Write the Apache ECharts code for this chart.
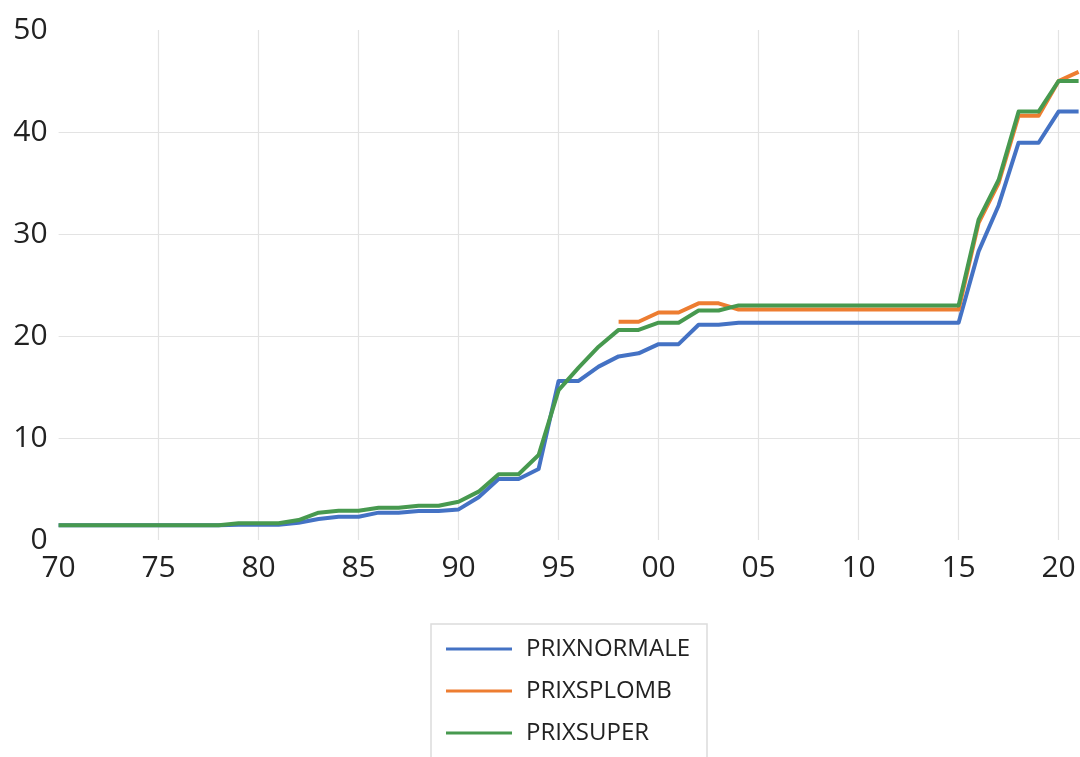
<!DOCTYPE html>
<html>
<head>
<meta charset="utf-8">
<title>Prix des carburants</title>
<script src="https://cdn.jsdelivr.net/npm/echarts@6/dist/echarts.min.js"></script>
<style>
  html, body { margin: 0; padding: 0; background: #ffffff; }
  #chart { width: 1080px; height: 757px; }
</style>
</head>
<body>
<div id="chart"></div>
<script>
// Years 1970 .. 2021
const years = [];
for (let y = 1970; y <= 2021; y++) years.push(y);

const seriesNames = ['PRIXNORMALE', 'PRIXSPLOMB', 'PRIXSUPER'];

const prixNormale = [
  1.45, 1.45, 1.45, 1.45, 1.45, 1.45, 1.45, 1.45, 1.45, 1.5,   // 1970-1979
  1.5, 1.5, 1.7, 2.06, 2.28, 2.28, 2.68, 2.68, 2.84, 2.84,      // 1980-1989
  3.0, 4.19, 5.98, 5.98, 6.96, 15.6, 15.6, 17.0, 18.0, 18.3,    // 1990-1999
  19.2, 19.2, 21.1, 21.1, 21.3, 21.3, 21.3, 21.3, 21.3, 21.3,   // 2000-2009
  21.3, 21.3, 21.3, 21.3, 21.3, 21.3, 28.3, 32.8, 38.95, 38.95, // 2010-2019
  42.0, 42.0                                                    // 2020-2021
];

const prixSPlomb = [
  null, null, null, null, null, null, null, null, null, null,   // 1970-1979
  null, null, null, null, null, null, null, null, null, null,   // 1980-1989
  null, null, null, null, null, null, null, null, 21.4, 21.4,   // 1990-1999
  22.3, 22.3, 23.2, 23.2, 22.6, 22.6, 22.6, 22.6, 22.6, 22.6,   // 2000-2009
  22.6, 22.6, 22.6, 22.6, 22.6, 22.6, 31.1, 35.0, 41.6, 41.6,   // 2010-2019
  45.0, 45.9                                                    // 2020-2021
];

const prixSuper = [
  1.45, 1.45, 1.45, 1.45, 1.45, 1.45, 1.45, 1.45, 1.45, 1.65,  // 1970-1979
  1.65, 1.65, 1.96, 2.68, 2.87, 2.87, 3.17, 3.17, 3.36, 3.36,  // 1980-1989
  3.75, 4.74, 6.44, 6.44, 8.33, 14.7, 16.9, 18.95, 20.6, 20.6, // 1990-1999
  21.3, 21.3, 22.5, 22.5, 23.0, 23.0, 23.0, 23.0, 23.0, 23.0,  // 2000-2009
  23.0, 23.0, 23.0, 23.0, 23.0, 23.0, 31.4, 35.3, 42.0, 42.0,  // 2010-2019
  45.0, 45.0                                                   // 2020-2021
];

const colors = ['#4472C4', '#ED7D31', '#47994F'];

function pairs(values) {
  return years.map((y, i) => [y, values[i]]);
}

const textColor = '#222222';
const fontFamily = '"Open Sans", "Noto Sans", sans-serif';

function lineSeries(name, values, color) {
  return {
    name: name,
    type: 'line',
    data: pairs(values),
    symbol: 'none',
    connectNulls: false,
    lineStyle: { color: color, width: 4, join: 'round' },
    itemStyle: { color: color },
    emphasis: { disabled: true },
    animation: false
  };
}

const chart = echarts.init(document.getElementById('chart'), null, { renderer: 'canvas' });

chart.setOption({
  backgroundColor: '#ffffff',
  animation: false,
  color: colors,
  // plot area runs past the right edge of the canvas (axis ends at 2022)
  grid: {
    left: 58.6,
    width: 1040,
    top: 30,
    height: 510,
    containLabel: false,
    outerBoundsMode: 'none'
  },
  xAxis: {
    type: 'value',
    min: 1970,
    max: 2022,
    interval: 5,
    axisLine: { show: false },
    axisTick: { show: false },
    axisLabel: {
      color: textColor,
      fontFamily: fontFamily,
      fontSize: 30,
      margin: 13,
      formatter: v => String(v).slice(2)
    },
    splitLine: {
      show: true,
      showMinLine: false,
      showMaxLine: false,
      lineStyle: { color: '#e3e3e3', width: 1.2 }
    }
  },
  yAxis: {
    type: 'value',
    min: 0,
    max: 50,
    interval: 10,
    axisLine: { show: false },
    axisTick: { show: false },
    axisLabel: {
      color: textColor,
      fontFamily: fontFamily,
      fontSize: 30,
      margin: 11
    },
    splitLine: {
      show: true,
      showMinLine: false,
      showMaxLine: false,
      lineStyle: { color: '#e3e3e3', width: 1.2 }
    }
  },
  // legend frame, continuing below the bottom edge
  graphic: [{
    type: 'rect',
    silent: true,
    shape: { x: 431, y: 624, width: 276, height: 200 },
    style: { fill: 'none', stroke: '#dcdcdc', lineWidth: 1.5 }
  }],
  legend: {
    data: seriesNames,
    orient: 'vertical',
    left: 446,
    top: 628,
    padding: 0,
    itemGap: 0,
    itemWidth: 66,
    itemHeight: 3,
    icon: 'rect',
    selectedMode: false,
    textStyle: {
      color: textColor,
      fontFamily: fontFamily,
      fontSize: 24,
      lineHeight: 42,
      padding: [0, 0, 0, 9]
    }
  },
  series: [
    lineSeries(seriesNames[0], prixNormale, colors[0]),
    lineSeries(seriesNames[1], prixSPlomb, colors[1]),
    lineSeries(seriesNames[2], prixSuper, colors[2])
  ]
});
</script>
</body>
</html>
